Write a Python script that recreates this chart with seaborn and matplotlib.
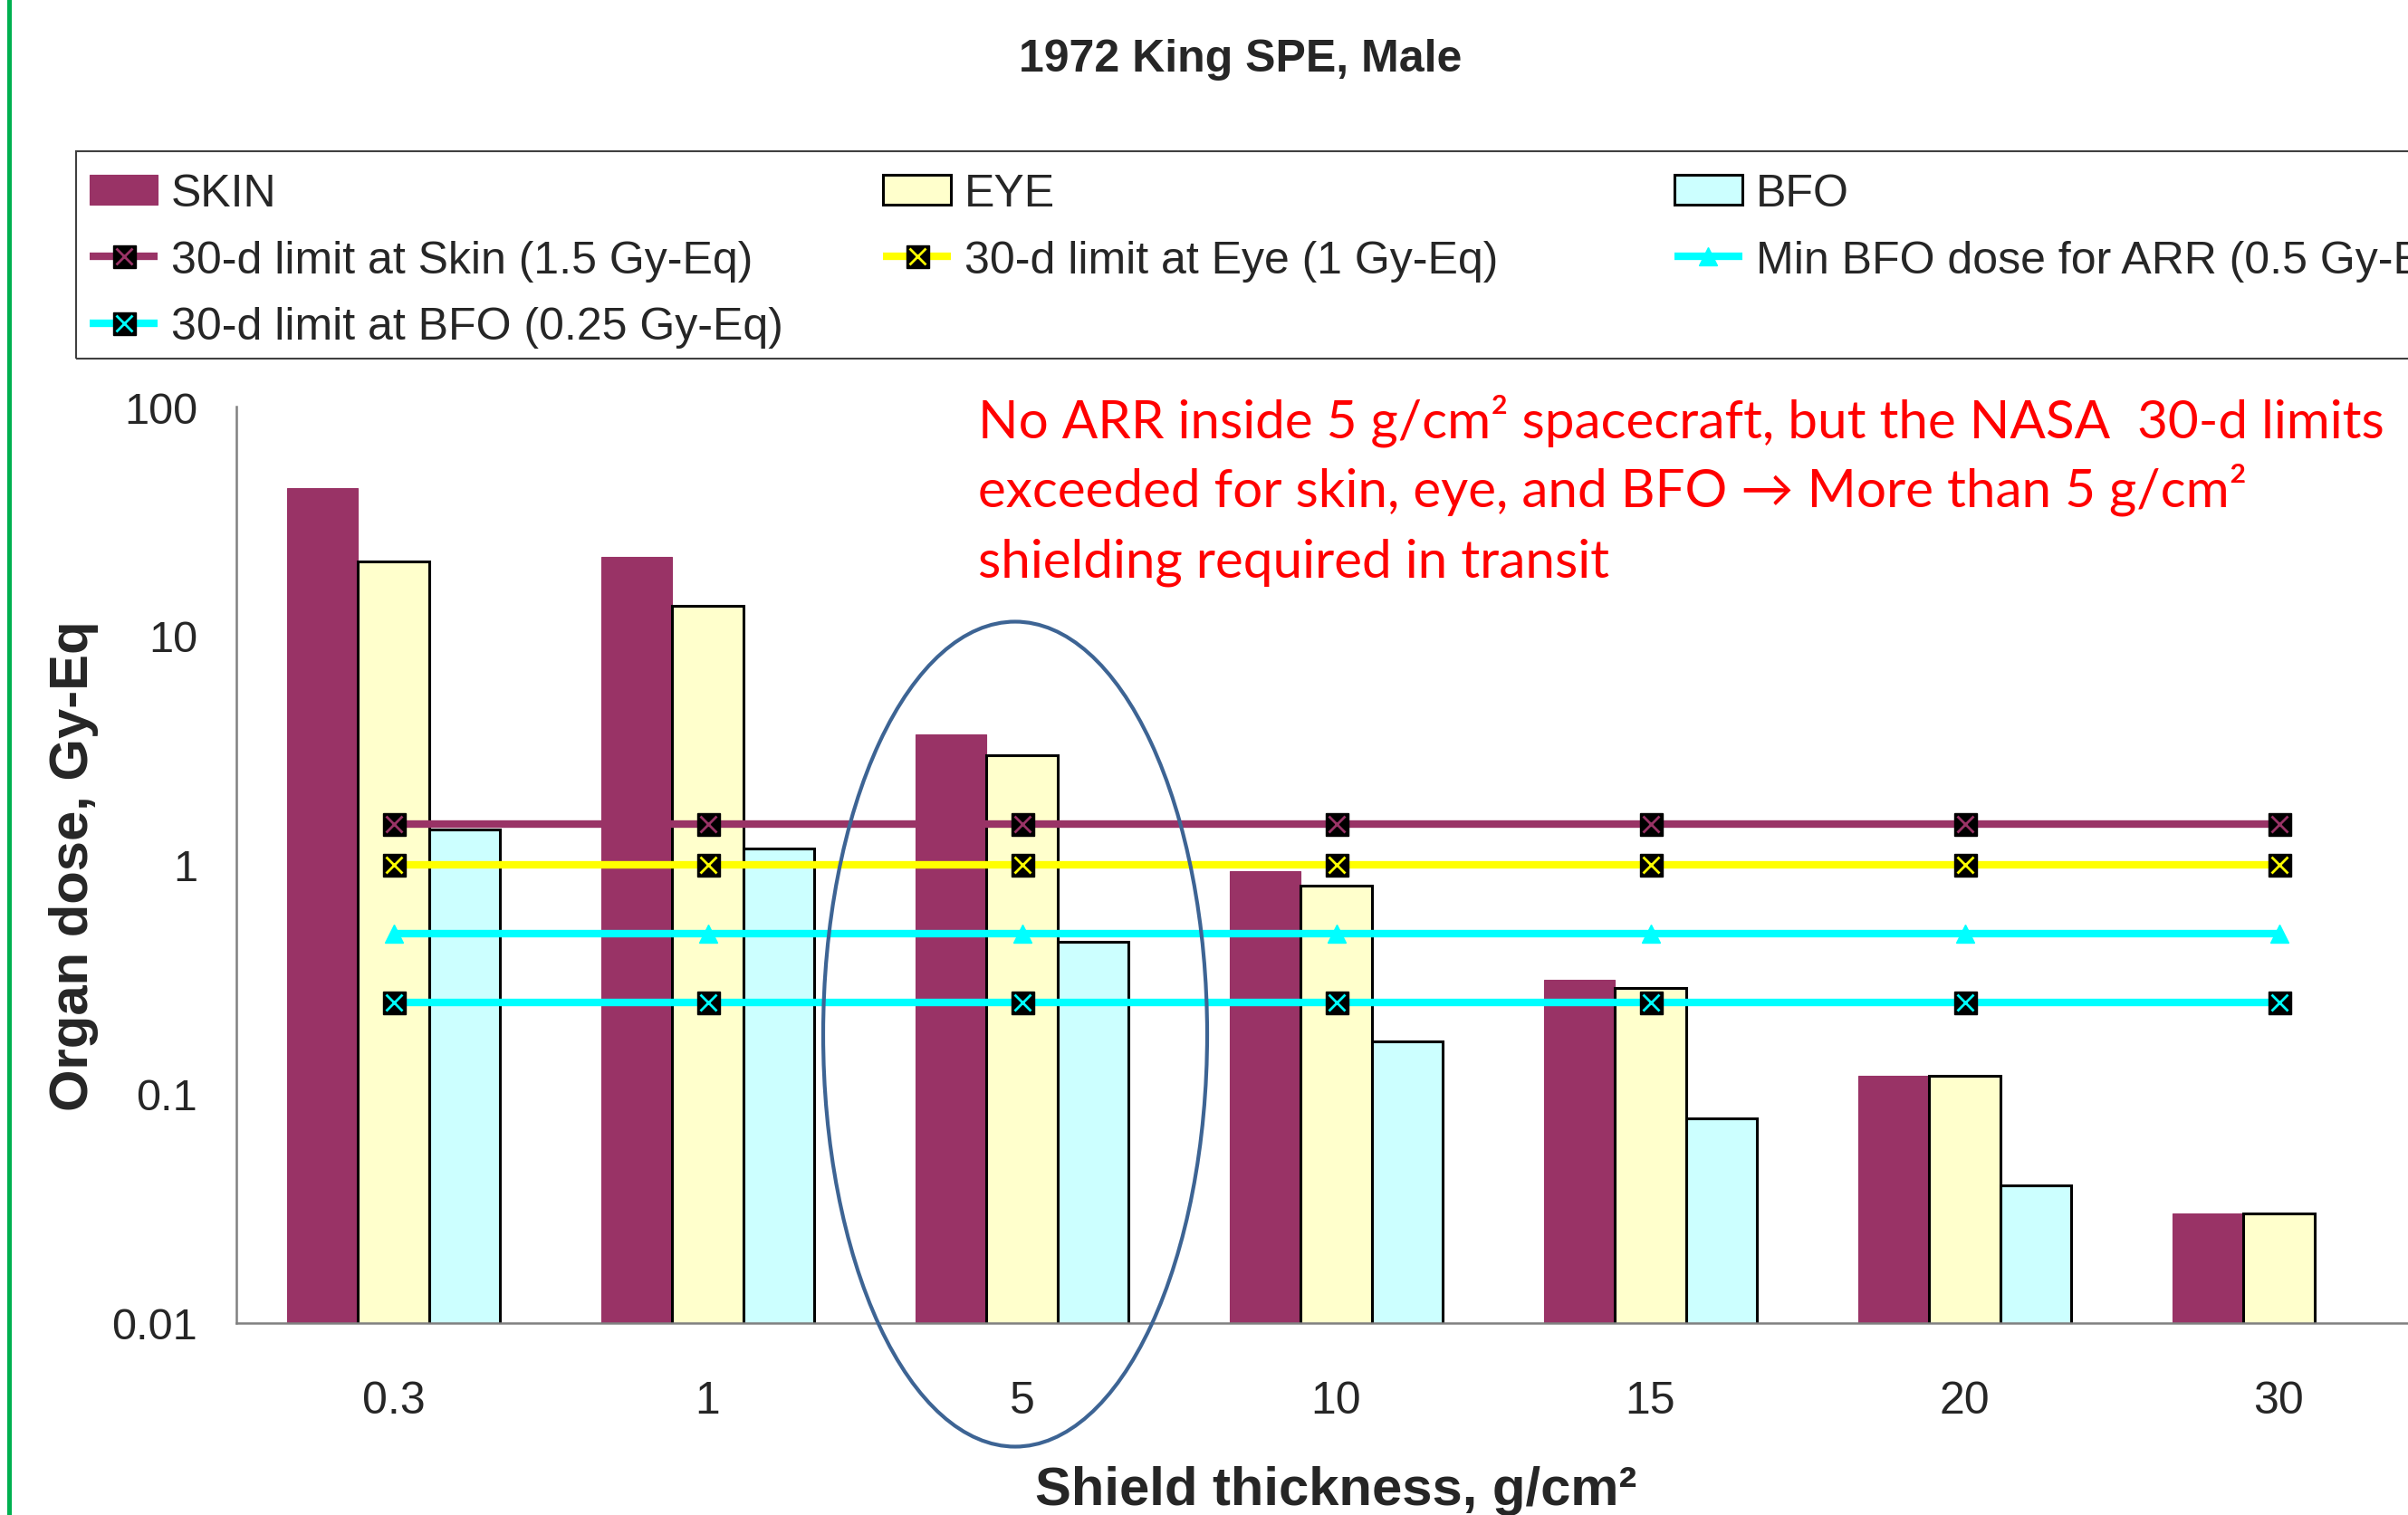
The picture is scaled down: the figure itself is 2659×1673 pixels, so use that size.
import numpy as np
import pandas as pd
import matplotlib
matplotlib.use("Agg")
import matplotlib.pyplot as plt
from matplotlib.patches import Ellipse, Rectangle, Patch
from matplotlib.lines import Line2D
from matplotlib.ticker import LogLocator, NullFormatter
import seaborn as sns

# ---- data -------------------------------------------------------------
categories = ["0.3", "1", "5", "10", "15", "20", "30"]
organs = ["SKIN", "EYE", "BFO"]
skin_dose = [44.0, 22.0, 3.7, 0.94, 0.315, 0.12, 0.030]
eye_dose = [21.0, 13.5, 3.0, 0.81, 0.29, 0.12, 0.030]
bfo_dose = [1.42, 1.18, 0.46, 0.17, 0.078, 0.040, np.nan]

limit_labels = [
    "30-d limit at Skin (1.5 Gy-Eq)",
    "30-d limit at Eye (1 Gy-Eq)",
    "Min BFO dose for ARR (0.5 Gy-Eq)",
    "30-d limit at BFO (0.25 Gy-Eq)",
]
limit_values = [1.5, 1.0, 0.5, 0.25]

y_ticks = [0.01, 0.1, 1, 10, 100]
y_tick_labels = ["0.01", "0.1", "1", "10", "100"]

note_lines = [
    "No ARR inside 5 g/cm\u00b2 spacecraft, but the NASA  30-d limits",
    "exceeded for skin, eye, and BFO \u2192 More than 5 g/cm\u00b2",
    "shielding required in transit",
]

# ---- style ------------------------------------------------------------
SKIN_C = "#993366"
EYE_C = "#FFFFCC"
BFO_C = "#CCFFFF"
YELLOW = "#FFFF00"
CYAN = "#00FFFF"
line_colors = [SKIN_C, YELLOW, CYAN, CYAN]

W, H = 2659, 1674
sns.set_style("white")
plt.rcParams["font.family"] = ["Liberation Sans", "DejaVu Sans"]

fig = plt.figure(figsize=(W / 100, H / 100), dpi=100)
ax = fig.add_axes([261 / W, 1 - 1462 / H, (2690 - 261) / W, (1462 - 450) / H])

df = pd.DataFrame({
    "thickness": categories * 3,
    "organ": np.repeat(organs, len(categories)),
    "dose": skin_dose + eye_dose + bfo_dose,
})

sns.barplot(
    data=df, x="thickness", y="dose", hue="organ",
    order=categories, hue_order=organs,
    palette=[SKIN_C, EYE_C, BFO_C], saturation=1,
    width=0.675, errorbar=None, legend=False, ax=ax, zorder=2,
)
for cont, ec, lw in zip(ax.containers, [SKIN_C, "black", "black"], [0.8, 2.2, 2.2]):
    for bar in cont:
        bar.set_edgecolor(ec)
        bar.set_linewidth(lw)

ax.set_yscale("log")
ax.set_ylim(0.01, 100)
ax.set_xlim(-0.5, len(categories) - 0.5)

# horizontal dose-limit series
xpos = np.arange(len(categories))
for i, (val, col) in enumerate(zip(limit_values, line_colors)):
    yv = np.full(len(xpos), val)
    ax.plot(xpos, yv, color=col, lw=6.0, zorder=4, solid_capstyle="butt")
    if i == 2:
        ax.plot(xpos, yv, ls="none", marker="^", ms=15, mfc=col, mec=col, zorder=5)
    else:
        ax.plot(xpos, yv, ls="none", marker="s", ms=18, mfc="black", mec="black", zorder=5)
        ax.plot(xpos, yv, ls="none", marker="x", ms=13, mec=col, mew=2.0, zorder=6)

# axes cosmetics
for side in ["top", "right"]:
    ax.spines[side].set_visible(False)
for side in ["left", "bottom"]:
    ax.spines[side].set_color("#808080")
    ax.spines[side].set_linewidth(1.8)

ax.set_yticks(y_ticks)
ax.set_yticklabels(y_tick_labels)
ax.yaxis.set_minor_locator(LogLocator(base=10, subs=np.arange(2, 10)))
ax.yaxis.set_minor_formatter(NullFormatter())
ax.tick_params(axis="y", which="major", direction="out", length=12.2, width=1.1,
               color="black", pad=18.7, labelsize=35)
ax.tick_params(axis="y", which="minor", direction="out", length=7.9, width=1.1, color="black")

ax.set_xticks(xpos)
ax.set_xticklabels(categories)
ax.set_xticks(np.arange(-0.5, len(categories), 1.0), minor=True)
ax.tick_params(axis="x", which="major", length=0, pad=45.5, labelsize=36)
ax.tick_params(axis="x", which="minor", direction="out", length=13.7, width=1.0, color="black")

ax.set_xlabel("Shield thickness, g/cm\u00b2", fontsize=43, fontweight="bold")
ax.xaxis.set_label_coords(0.5, -0.155)
ax.set_ylabel("Organ dose, Gy-Eq", fontsize=43, fontweight="bold")
ax.yaxis.set_label_coords(-0.0625, 0.5)

# title
fig.text(1370 / W, 1 - 79 / H, "1972 King SPE, Male", ha="center", va="baseline",
         fontsize=36, fontweight="bold")

# legend: three columns inside one frame
def limit_handle(i):
    col = line_colors[i]
    base = Line2D([], [], color=col, lw=6.0, solid_capstyle="butt")
    if i == 2:
        tri = Line2D([], [], ls="none", marker="^", ms=15, mfc=col, mec=col)
        return (base, tri)
    box = Line2D([], [], ls="none", marker="s", ms=18, mfc="black", mec="black")
    cross = Line2D([], [], ls="none", marker="x", ms=13, mec=col, mew=2.0)
    return (base, box, cross)

bar_handles = [
    Patch(fc=SKIN_C, ec=SKIN_C, lw=0.8),
    Patch(fc=EYE_C, ec="black", lw=2.2),
    Patch(fc=BFO_C, ec="black", lw=2.2),
]
columns = [
    ([bar_handles[0], limit_handle(0), limit_handle(3)], [organs[0], limit_labels[0], limit_labels[3]], 99),
    ([bar_handles[1], limit_handle(1)], [organs[1], limit_labels[1]], 975),
    ([bar_handles[2], limit_handle(2)], [organs[2], limit_labels[2]], 1849),
]
for handles, labels, xpx in columns:
    fig.legend(handles, labels, loc="upper left",
               bbox_to_anchor=(xpx / W, 1 - 192 / H), bbox_transform=fig.transFigure,
               frameon=False, fontsize=36, handlelength=1.5, handleheight=0.66,
               handletextpad=0.3, labelspacing=0.55, borderpad=0, borderaxespad=0)

fig.add_artist(Rectangle((84 / W, 1 - 397 / H), (2720 - 84) / W, (397 - 168) / H,
                         transform=fig.transFigure, fill=False, ec="#404040", lw=1.5))

# annotation
for k, line in enumerate(note_lines):
    fig.text(1080 / W, 1 - (483 + 77 * k) / H, line, ha="left", va="baseline",
             fontsize=42, color="#FF0000", family=["Lato", "DejaVu Sans"])

fig.add_artist(Ellipse((1121 / W, 1 - 1143 / H), 424 / W, 911 / H,
                       transform=fig.transFigure, fill=False, ec="#3D6494", lw=3.0))

# slide margin rule
fig.add_artist(Line2D([10 / W, 10 / W], [0, 1], transform=fig.transFigure,
                      color="#00B050", lw=3.6))

fig.savefig("out.png", dpi=100)
